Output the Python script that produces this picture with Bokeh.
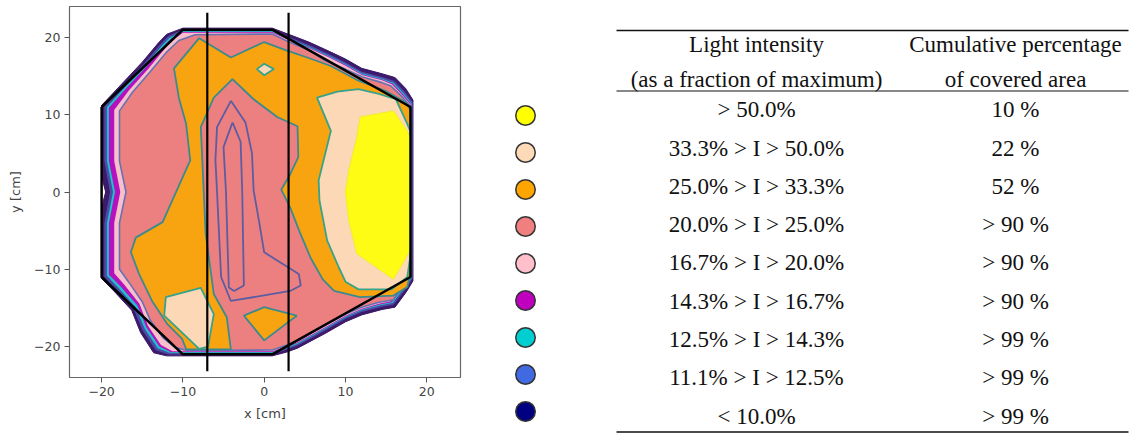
from bokeh.plotting import figure
from bokeh.models import Range1d, FixedTicker, CustomJSTickFormatter
from bokeh.layouts import row
from bokeh.embed import file_html
from bokeh.resources import INLINE
from bokeh.core.properties import value

# ------------------------------------------------------------------ data
TICKS = [-20, -10, 0, 10, 20]
X_LABEL = "x [cm]"
Y_LABEL = "y [cm]"

# two vertical cut lines (x positions) and their extent in y [cm]
CUT_X = [-7.0, 3.0]
CUT_Y = [-23.2, 23.2]

# black outline of the illuminated area [cm]
BOUNDARY = [(-20, 11), (-10, 21), (1, 21), (18, 11), (18, -11), (1, -21), (-10, -21), (-20, -11)]

# filled contour regions [cm]
REGION_OUTER = [(-20.0, 11.2), (-17.5, 14.0), (-15.0, 16.8), (-13.0, 19.3), (-12.0, 20.4), (-10.0, 21.2),
                (1.0, 21.2), (3.0, 20.4), (5.5, 19.4), (8.0, 18.2), (10.0, 17.2), (12.0, 16.0), (14.5, 15.3),
                (16.1, 14.8), (17.4, 13.4), (18.3, 11.9), (18.3, -11.5), (17.5, -12.9), (16.1, -14.9),
                (14.5, -15.2), (12.0, -15.9), (10.0, -16.8), (7.5, -18.3), (4.1, -20.2), (2.8, -20.7),
                (1.0, -21.2), (-12.0, -21.2), (-13.6, -20.8), (-15.2, -18.2), (-16.3, -15.3), (-18.5, -12.8),
                (-20.0, -11.2), (-20.0, -2.0), (-19.5, 0.0), (-20.0, 2.0)]
REGION_11 = [(-19.6, 11.1), (-17.3, 13.7), (-14.8, 16.5), (-12.8, 19.0), (-11.8, 20.1), (-10.0, 20.95),
             (1.0, 20.95), (3.0, 20.0), (5.5, 18.95), (8.0, 17.75), (10.0, 16.7), (12.0, 15.5), (14.5, 14.8),
             (16.0, 14.3), (17.2, 13.0), (18.2, 11.6), (18.2, -11.2), (17.3, -12.6), (15.9, -14.5),
             (14.4, -14.8), (12.0, -15.45), (10.0, -16.35), (7.5, -17.85), (4.1, -19.8), (2.8, -20.3),
             (1.0, -20.95), (-11.8, -20.95), (-13.3, -20.4), (-14.9, -17.9), (-16.0, -15.1), (-18.2, -12.6),
             (-19.6, -11.0), (-19.6, -4.0), (-18.9, 0.0), (-19.6, 4.0)]
REGION_12 = [(-19.35, 11.0), (-17.1, 13.6), (-14.65, 16.35), (-12.65, 18.85), (-11.65, 19.95), (-10.0, 20.8),
             (1.0, 20.8), (3.0, 19.85), (5.5, 18.8), (8.0, 17.6), (10.0, 16.55), (12.0, 15.35), (14.5, 14.65),
             (15.9, 14.15), (17.1, 12.85), (18.15, 11.45), (18.15, -11.05), (17.2, -12.45), (15.8, -14.35),
             (14.3, -14.65), (12.0, -15.3), (10.0, -16.2), (7.5, -17.7), (4.1, -19.65), (2.8, -20.15),
             (1.0, -20.8), (-11.65, -20.8), (-13.1, -20.2), (-14.7, -17.7), (-15.8, -14.9), (-17.95, -12.4),
             (-19.35, -10.85), (-19.35, -4.0), (-18.6, 0.0), (-19.35, 4.0)]
REGION_14 = [(-19.1, 10.9), (-16.95, 13.45), (-14.5, 16.2), (-12.5, 18.7), (-11.5, 19.8), (-10.0, 20.7),
             (1.0, 20.7), (3.0, 19.75), (5.5, 18.7), (8.0, 17.5), (10.0, 16.45), (12.0, 15.25), (14.5, 14.55),
             (15.8, 14.05), (17.0, 12.75), (18.1, 11.35), (18.1, -10.95), (17.1, -12.35), (15.7, -14.25),
             (14.2, -14.55), (12.0, -15.2), (10.0, -16.1), (7.5, -17.6), (4.1, -19.55), (2.8, -20.05),
             (1.0, -20.7), (-11.5, -20.7), (-12.9, -20.0), (-14.5, -17.5), (-15.6, -14.7), (-17.7, -12.2),
             (-19.1, -10.7), (-19.1, -4.0), (-18.35, 0.0), (-19.1, 4.0)]
REGION_17 = [(-18.45, 10.6), (-16.6, 13.2), (-14.25, 15.95), (-12.3, 18.45), (-11.3, 19.6), (-10.0, 20.6),
             (1.0, 20.6), (3.0, 19.65), (5.5, 18.6), (8.0, 17.4), (10.0, 16.35), (12.0, 15.15), (14.5, 14.45),
             (15.7, 13.95), (16.9, 12.65), (18.05, 11.25), (18.05, -10.85), (17.0, -12.25), (15.6, -14.15),
             (14.1, -14.45), (12.0, -15.1), (10.0, -16.0), (7.5, -17.5), (4.1, -19.45), (2.8, -19.95),
             (1.0, -20.6), (-11.3, -20.6), (-12.7, -19.8), (-14.3, -17.3), (-15.35, -14.45), (-17.2, -12.0),
             (-18.45, -10.5), (-18.45, -4.0), (-17.7, 0.0), (-18.45, 4.0)]
REGION_20 = [(-17.8, 10.5), (-16.2, 12.9), (-14.0, 15.6), (-12.0, 18.1), (-10.5, 19.6), (-8.5, 20.35),
             (1.0, 20.45), (3.0, 19.45), (5.5, 18.35), (7.5, 17.0), (10.0, 15.9), (12.0, 14.9), (14.5, 14.15),
             (15.6, 13.7), (16.8, 12.5), (18.0, 11.1), (18.0, -10.7), (16.9, -12.1), (15.9, -13.95),
             (14.0, -14.3), (12.0, -14.9), (10.0, -15.8), (7.5, -17.2), (4.1, -19.25), (2.8, -19.8),
             (1.0, -20.45), (-9.5, -20.5), (-11.0, -20.1), (-12.5, -18.8), (-14.0, -16.6), (-15.0, -14.2),
             (-16.7, -11.6), (-17.8, -10.0), (-17.8, -4.0), (-17.0, 0.0), (-17.8, 4.0)]
REGION_25 = [(-9.6, -20.35), (-10.1, -19.0), (-11.9, -17.1), (-13.8, -14.1), (-15.4, -10.6), (-16.4, -7.8),
             (-15.8, -5.9), (-12.5, -3.9), (-9.1, 4.1), (-9.6, 8.8), (-10.5, 12.2), (-11.1, 16.0), (-8.0, 19.9),
             (-4.1, 17.4), (0.0, 19.4), (2.8, 18.3), (5.3, 17.4), (8.2, 16.3), (11.6, 14.4), (14.9, 13.1),
             (17.4, 11.6), (18.0, 10.6), (18.0, -10.4), (17.6, -12.3), (15.9, -13.4), (11.8, -13.6),
             (8.6, -12.8), (7.2, -11.3), (5.7, -8.5), (4.3, -5.0), (3.2, -2.0), (2.1, 0.3), (3.2, 2.3),
             (4.2, 4.5), (4.1, 8.5), (1.6, 9.7), (-1.3, 12.0), (-3.9, 14.6), (-6.2, 12.2), (-7.8, 8.4),
             (-7.2, -5.4), (-6.2, -13.2), (-4.6, -16.2), (-4.1, -20.35)]
REGION_25_ISLAND = [(-2.5, -16.0), (0.0, -14.9), (4.0, -16.0), (0.0, -19.2)]
REGION_33_RIGHT = [(6.5, 12.2), (9.0, 13.0), (11.6, 13.3), (14.1, 12.7), (16.2, 12.0), (17.6, 8.8),
                   (18.0, 7.8), (18.0, -8.2), (17.6, -11.0), (15.7, -12.6), (11.6, -12.6), (10.0, -11.6),
                   (9.2, -9.8), (7.75, -6.3), (6.8, -1.1), (6.7, 1.5), (8.2, 7.9)]
REGION_33_LOWER = [(-12.1, -13.6), (-7.8, -12.4), (-6.2, -15.8), (-6.9, -20.0), (-8.0, -20.3), (-12.3, -16.0)]
REGION_33_SMALL = [(-0.9, 15.9), (0.0, 16.6), (1.2, 15.9), (0.0, 15.1)]
REGION_50 = [(11.8, 9.7), (15.9, 10.5), (17.6, 7.9), (17.95, 7.0), (17.95, -7.5), (17.6, -8.2),
             (15.9, -11.3), (11.4, -8.0), (10.4, -3.7), (10.0, 0.0), (10.4, 2.8), (11.4, 7.1)]

# inner contour lines in the central band [cm]
INNER_LINE_A = [(-4.1, 11.8), (-2.3, 9.0), (-1.5, 5.0), (-1.3, 0.2), (-0.6, -4.0), (0.0, -7.8), (4.25, -10.6),
                (4.5, -12.1), (3.2, -12.8), (-4.1, -14.1), (-5.3, -11.0), (-5.8, 0.0), (-6.0, 4.1), (-5.8, 8.4)]
INNER_LINE_B = [(-3.9, 9.0), (-2.9, 6.5), (-2.7, 0.0), (-2.5, -12.1), (-3.7, -12.8), (-4.35, -12.35),
                (-4.7, 0.0), (-5.0, 5.8)]

# table
HEADER_LEFT = ["Light intensity", "(as a fraction of maximum)"]
HEADER_RIGHT = ["Cumulative percentage", "of covered area"]
INTENSITY_LABELS = ["> 50.0%", "33.3% > I > 50.0%", "25.0% > I > 33.3%", "20.0% > I > 25.0%",
                    "16.7% > I > 20.0%", "14.3% > I > 16.7%", "12.5% > I > 14.3%", "11.1% > I > 12.5%",
                    "< 10.0%"]
COVERAGE_LABELS = ["10 %", "22 %", "52 %", "> 90 %", "> 90 %", "> 90 %", "> 99 %", "> 99 %", "> 99 %"]
LEVEL_COLORS = ["yellow", "peachpuff", "orange", "lightcoral", "pink", "#bf00bf", "darkturquoise",
                "royalblue", "navy"]

# ------------------------------------------------------------------ styles
REGION_STYLE = [
    (REGION_OUTER, "#3d1b6c", "#3a1566", 1.0),
    (REGION_11, "#4b4aa4", "#5050a8", 1.0),
    (REGION_12, "#1cc2cc", None, 0),
    (REGION_14, "#b412be", None, 0),
    (REGION_17, "#f9bfca", None, 0),
    (REGION_20, "#ec8080", "#6672b0", 1.6),
    (REGION_25, "#f8a310", "#3b8b8e", 1.8),
    (REGION_25_ISLAND, "#f8a310", "#3b8b8e", 1.8),
    (REGION_33_RIGHT, "#fcd8b6", "#36a38a", 1.8),
    (REGION_33_LOWER, "#fcd8b6", "#36a38a", 1.8),
    (REGION_33_SMALL, "#fcd8b6", "#36a38a", 1.8),
    (REGION_50, "#fefb14", "#eeee30", 1.0),
]
AXIS_FONT = "DejaVu Sans"
TABLE_FONT = "Liberation Serif"

PAGE_W, PAGE_H = 1132, 434
LEFT_W = 488


def xs(pts, close=False):
    v = [p[0] for p in pts]
    return v + v[:1] if close else v


def ys(pts, close=False):
    v = [p[1] for p in pts]
    return v + v[:1] if close else v


# ------------------------------------------------------------------ contour plot
p = figure(width=LEFT_W, height=PAGE_H, x_range=Range1d(-23.95, 24.15), y_range=Range1d(-24.0, 24.0),
           output_backend="svg", toolbar_location=None,
           min_border_left=69, min_border_right=LEFT_W - 69 - 391, min_border_top=6,
           min_border_bottom=PAGE_H - 6 - 371)
p.frame_align = False
p.background_fill_color = "white"
p.border_fill_color = "white"
p.grid.visible = False
p.outline_line_color = "#666666"
p.outline_line_width = 1.2

for pts, fill, line, lw in REGION_STYLE:
    if line is None:
        p.patch(xs(pts), ys(pts), fill_color=fill, line_color=None)
    else:
        p.patch(xs(pts), ys(pts), fill_color=fill, line_color=line, line_width=lw)

for pts in (INNER_LINE_A, INNER_LINE_B):
    p.line(xs(pts, True), ys(pts, True), line_color="#5b5ca2", line_width=1.8)

p.line(xs(BOUNDARY, True), ys(BOUNDARY, True), line_color="black", line_width=2.5)
p.segment(x0=CUT_X, x1=CUT_X, y0=[CUT_Y[0]] * len(CUT_X), y1=[CUT_Y[1]] * len(CUT_X),
          line_color="black", line_width=2.2)

fmt = CustomJSTickFormatter(code="return tick < 0 ? '\\u2212' + (-tick) : '' + tick;")
for ax in (p.xaxis[0], p.yaxis[0]):
    ax.ticker = FixedTicker(ticks=TICKS)
    ax.formatter = fmt
    ax.axis_line_color = None
    ax.major_tick_line_color = "#555555"
    ax.major_tick_in = 0
    ax.major_tick_out = 5
    ax.minor_tick_line_color = None
    ax.major_label_text_font = AXIS_FONT
    ax.major_label_text_font_size = "12.5px"
    ax.major_label_text_color = "#444444"
    ax.major_label_standoff = 4
    ax.axis_label_text_font = AXIS_FONT
    ax.axis_label_text_font_size = "13px"
    ax.axis_label_text_font_style = "normal"
    ax.axis_label_text_color = "#444444"
p.xaxis.axis_label = X_LABEL
p.yaxis.axis_label = Y_LABEL
p.xaxis.axis_label_standoff = 7
p.yaxis.axis_label_standoff = 8

# ------------------------------------------------------------------ legend + table (page-pixel coordinates)
X0, X1, Y0, Y1 = LEFT_W, PAGE_W, 0, PAGE_H
t = figure(width=X1 - X0, height=Y1 - Y0, x_range=Range1d(X0, X1), y_range=Range1d(Y1, Y0),
           output_backend="svg", toolbar_location=None, min_border=0)
t.frame_align = False
t.axis.visible = False
t.grid.visible = False
t.outline_line_color = None
t.background_fill_color = "white"
t.border_fill_color = "white"

TABLE_L, TABLE_R = 616, 1128
COL1, COL2 = 756, 1015
HEAD_Y = [44, 79]
ROW_Y0, ROW_DY = 109.2, 38.3
SW_X, SW_Y0, SW_DY = 525, 115, 37
n = len(INTENSITY_LABELS)
row_y = [ROW_Y0 + i * ROW_DY for i in range(n)]
sw_y = [SW_Y0 + i * SW_DY for i in range(n)]

t.scatter([SW_X] * n, sw_y, size=19.5, fill_color=LEVEL_COLORS, line_color="#333333", line_width=1.5)

rules_y = [30, 90.5, 431.5]
t.segment(x0=[TABLE_L] * 3, x1=[TABLE_R] * 3, y0=rules_y, y1=rules_y, line_color="#111111",
          line_width=[1.6, 1.2, 1.6])

text_kw = dict(text_font=value(TABLE_FONT), text_font_size="23px", text_align="center",
               text_baseline="middle", text_color="#111111")
t.text([COL1] * 2, HEAD_Y, text=HEADER_LEFT, **text_kw)
t.text([COL2] * 2, HEAD_Y, text=HEADER_RIGHT, **text_kw)
t.text([COL1] * n, row_y, text=INTENSITY_LABELS, **text_kw)
t.text([COL2] * n, row_y, text=COVERAGE_LABELS, **text_kw)

layout = row(p, t)
open("out.html", "w").write(file_html(layout, INLINE))
